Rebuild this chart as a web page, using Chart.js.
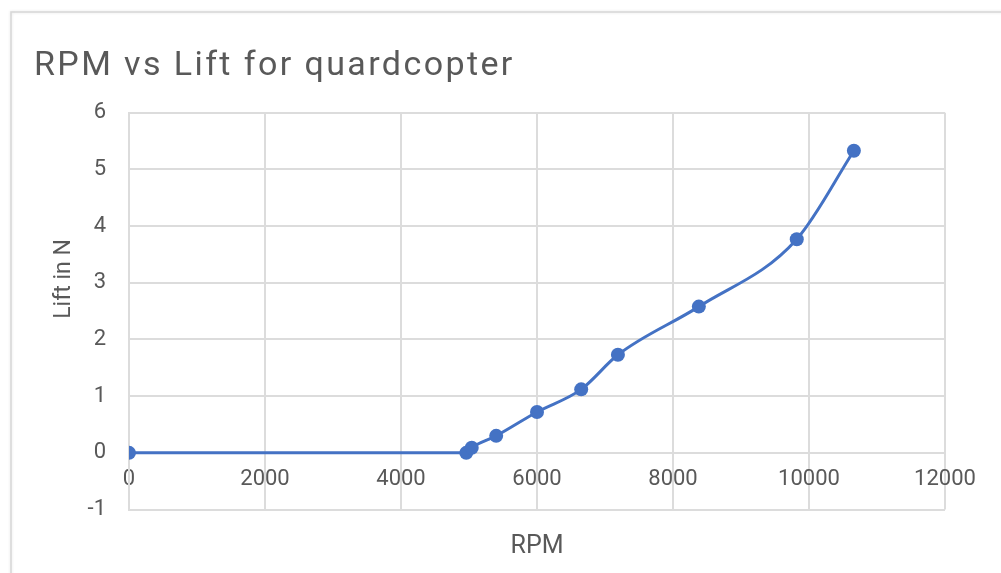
<!DOCTYPE html>
<html>
<head>
<meta charset="utf-8">
<script src="https://cdn.jsdelivr.net/npm/chart.js@4/dist/chart.umd.min.js"></script>
<style>
  html, body { margin: 0; padding: 0; background: #ffffff; }
  #wrap { width: 1001px; height: 573px; position: relative; }
</style>
</head>
<body>
<div id="wrap"><canvas id="c" width="1001" height="573"></canvas></div>
<script>
const chartTitle = 'RPM vs Lift for quardcopter';
const xAxisTitle = 'RPM';
const yAxisTitle = 'Lift in N';
const rpmValues = [0, 4960, 5040, 5400, 6000, 6650, 7190, 8380, 9820, 10660];
const liftValues = [0, 0, 0.09, 0.3, 0.72, 1.12, 1.73, 2.58, 3.77, 5.33];
const xTicks = [0, 2000, 4000, 6000, 8000, 10000, 12000];
const yTicks = [-1, 0, 1, 2, 3, 4, 5, 6];

const textColor = '#595959';
const gridColor = '#dcdcdc';
const lineColor = '#4472C4';

const points = rpmValues.map((x, i) => ({ x: x, y: liftValues[i] }));

const cardPlugin = {
  id: 'card',
  beforeDraw(chart) {
    const ctx = chart.ctx;
    ctx.save();
    ctx.fillStyle = '#ffffff';
    ctx.fillRect(0, 0, chart.width, chart.height);
    ctx.shadowColor = 'rgba(0,0,0,0.12)';
    ctx.shadowBlur = 3;
    ctx.strokeStyle = '#d6d6d6';
    ctx.lineWidth = 1.5;
    ctx.beginPath();
    ctx.moveTo(11, chart.height + 5);
    ctx.lineTo(11, 12);
    ctx.lineTo(chart.width + 5, 12);
    ctx.stroke();
    ctx.restore();
    const tb = chart.titleBlock;
    if (tb && !tb.__spaced) {
      const orig = tb.draw.bind(tb);
      tb.draw = function (area) {
        const c = chart.ctx;
        c.save();
        if ('letterSpacing' in c) c.letterSpacing = '2.4px';
        orig(area);
        c.restore();
      };
      tb.__spaced = true;
    }
  }
};

const yTitlePlugin = {
  id: 'yTitle',
  afterDraw(chart) {
    const ctx = chart.ctx;
    ctx.save();
    ctx.translate(64, 279);
    ctx.rotate(-Math.PI / 2);
    ctx.font = '23px Roboto';
    ctx.fillStyle = textColor;
    ctx.textAlign = 'center';
    ctx.textBaseline = 'middle';
    ctx.fillText(yAxisTitle, 0, 0);
    ctx.restore();
  }
};

new Chart(document.getElementById('c'), {
  type: 'scatter',
  data: {
    datasets: [{
      data: points,
      showLine: true,
      borderColor: lineColor,
      backgroundColor: lineColor,
      borderWidth: 3,
      cubicInterpolationMode: 'monotone',
      pointRadius: 7,
      pointBorderWidth: 0,
      pointHoverRadius: 7
    }]
  },
  options: {
    responsive: false,
    animation: false,
    events: [],
    layout: { padding: { left: 34, right: 56, top: 12, bottom: 63.5 } },
    plugins: {
      legend: { display: false },
      tooltip: { enabled: false },
      title: {
        display: true,
        text: chartTitle,
        align: 'start',
        color: textColor,
        font: { family: 'Roboto', size: 34, weight: 'normal' },
        padding: { top: 34, bottom: 26 }
      }
    },
    scales: {
      x: {
        type: 'linear',
        position: { y: 0 },
        min: 0,
        max: 12000,
        afterBuildTicks(scale) { scale.ticks = xTicks.map(v => ({ value: v })); },
        ticks: {
          color: textColor,
          font: { family: 'Roboto', size: 22 },
          padding: 13,
          maxRotation: 0,
          callback: (v) => String(v)
        },
        grid: { color: gridColor, lineWidth: 2, drawTicks: false },
        border: { color: gridColor, width: 2 },
        title: {
          display: true,
          text: xAxisTitle,
          color: textColor,
          font: { family: 'Roboto', size: 25 },
          padding: { top: 27, bottom: 0 }
        }
      },
      y: {
        type: 'linear',
        position: 'left',
        min: -1,
        max: 6,
        afterBuildTicks(scale) { scale.ticks = yTicks.map(v => ({ value: v })); },
        afterFit(scale) { scale.width = 95; },
        ticks: {
          color: textColor,
          font: { family: 'Roboto', size: 22 },
          padding: 23,
          callback: (v) => String(v)
        },
        grid: { color: gridColor, lineWidth: 2, drawTicks: false },
        border: { color: gridColor, width: 2 }
      }
    }
  },
  plugins: [cardPlugin, yTitlePlugin]
});
</script>
</body>
</html>
